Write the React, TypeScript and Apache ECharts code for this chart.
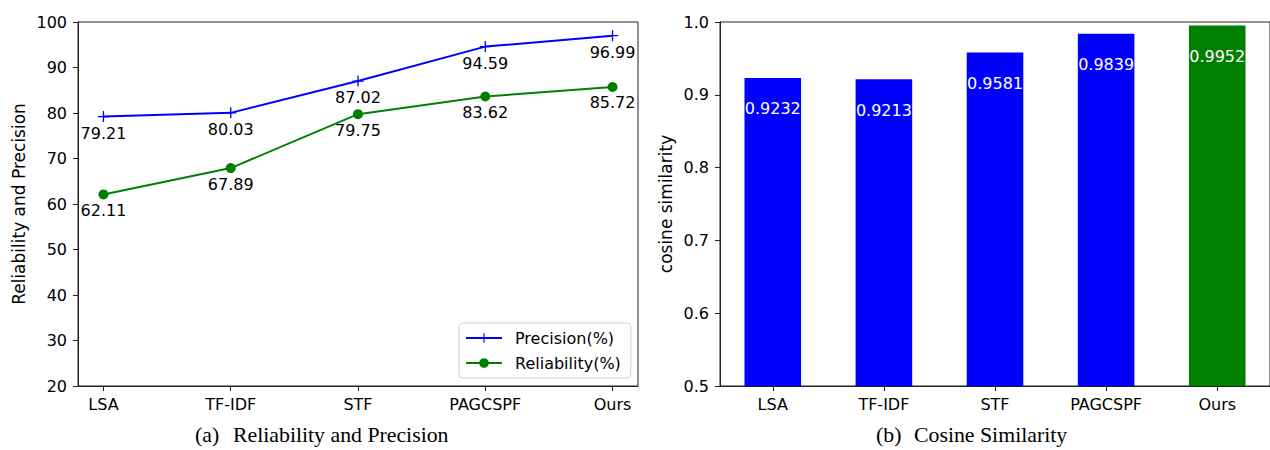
import React, { useEffect, useRef } from "react";
import * as echarts from "echarts";

const methods = ["LSA", "TF-IDF", "STF", "PAGCSPF", "Ours"];
const precision = [79.21, 80.03, 87.02, 94.59, 96.99];
const reliability = [62.11, 67.89, 79.75, 83.62, 85.72];
const cosine = [0.9232, 0.9213, 0.9581, 0.9839, 0.9952];
const leftTicks = [20, 30, 40, 50, 60, 70, 80, 90, 100];
const rightTicks = [0.5, 0.6, 0.7, 0.8, 0.9, 1.0];

const BLUE = "#0000ff";
const GREEN = "#008000";
const FONT = "'DejaVu Sans', sans-serif";
const SERIF = "'Liberation Serif', 'Times New Roman', serif";
const PLUS = "path://M4.4,0H5.6V4.4H10V5.6H5.6V10H4.4V5.6H0V4.4H4.4Z";

export default function App() {
  const ref = useRef<HTMLDivElement>(null);
  useEffect(() => {
    const chart = echarts.init(ref.current!, null, { renderer: "svg" });
    const idx = methods.map((_, i) => i);
    const axisCommon = {
      axisLine: { show: true, onZero: false, lineStyle: { color: "#222", width: 1 } },
      axisTick: { show: true, inside: false, length: 5, lineStyle: { color: "#222", width: 1 } },
      splitLine: { show: false },
    };
    const tickFont = { fontSize: 16, color: "#000", fontFamily: FONT };
    chart.setOption({
      animation: false,
      textStyle: { fontFamily: FONT },
      grid: [
        { left: 78, top: 22, width: 560, height: 364, show: true, borderColor: "#222", borderWidth: 1, backgroundColor: "transparent" },
        { left: 720, top: 22, width: 560.6, height: 364, show: true, borderColor: "#222", borderWidth: 1, backgroundColor: "transparent" },
      ],
      xAxis: [
        {
          type: "value", gridIndex: 0, min: -0.2, max: 4.2, ...axisCommon,
          axisTick: { ...axisCommon.axisTick, customValues: idx },
          axisLabel: { customValues: idx, formatter: (v: number) => methods[Math.round(v)] ?? "", ...tickFont, margin: 10 },
        },
        {
          type: "value", gridIndex: 1, min: -0.475, max: 4.475, ...axisCommon,
          axisTick: { ...axisCommon.axisTick, customValues: idx },
          axisLabel: { customValues: idx, formatter: (v: number) => methods[Math.round(v)] ?? "", ...tickFont, margin: 10 },
        },
      ],
      yAxis: [
        {
          type: "value", gridIndex: 0, min: leftTicks[0], max: leftTicks[leftTicks.length - 1], interval: 10, ...axisCommon,
          axisLabel: { ...tickFont, margin: 11 },
          name: "Reliability and Precision", nameLocation: "middle", nameGap: 51, nameRotate: 90,
          nameTextStyle: { fontSize: 17, color: "#000", fontFamily: FONT },
        },
        {
          type: "value", gridIndex: 1, min: rightTicks[0], max: rightTicks[rightTicks.length - 1], interval: 0.1, ...axisCommon,
          axisLabel: { ...tickFont, margin: 11, formatter: (v: number) => v.toFixed(1) },
          name: "cosine similarity", nameLocation: "middle", nameGap: 46, nameRotate: 90,
          nameTextStyle: { fontSize: 17, color: "#000", fontFamily: FONT },
        },
      ],
      legend: {
        data: ["Precision(%)", "Reliability(%)"],
        orient: "vertical",
        left: 459, top: 323,
        itemWidth: 36, itemHeight: 12, itemGap: 9,
        padding: [7, 10, 7, 6],
        borderColor: "#d0d0d0", borderWidth: 1, borderRadius: 4,
        backgroundColor: "rgba(255,255,255,0.8)",
        textStyle: { fontSize: 16, color: "#000", fontFamily: FONT, padding: [0, 0, 0, 8] },
      },
      series: [
        {
          name: "Precision(%)", type: "line", xAxisIndex: 0, yAxisIndex: 0,
          data: precision.map((v, i) => [i, v]),
          color: BLUE, symbol: PLUS, symbolSize: 11,
          lineStyle: { color: BLUE, width: 2 }, itemStyle: { color: BLUE },
          label: { show: true, position: "bottom", distance: 3, fontSize: 16, color: "#000", fontFamily: FONT, formatter: (p: any) => p.value[1].toFixed(2) },
        },
        {
          name: "Reliability(%)", type: "line", xAxisIndex: 0, yAxisIndex: 0,
          data: reliability.map((v, i) => [i, v]),
          color: GREEN, symbol: "circle", symbolSize: 10,
          lineStyle: { color: GREEN, width: 2 }, itemStyle: { color: GREEN },
          label: { show: true, position: "bottom", distance: 3, fontSize: 16, color: "#000", fontFamily: FONT, formatter: (p: any) => p.value[1].toFixed(2) },
        },
        {
          name: "Cosine", type: "bar", xAxisIndex: 1, yAxisIndex: 1,
          barWidth: 56.6,
          data: cosine.map((v, i) => ({ value: [i, v], itemStyle: { color: i === cosine.length - 1 ? GREEN : BLUE } })),
          label: { show: true, position: "insideTop", distance: 23, fontSize: 16, color: "#fff", fontFamily: FONT, formatter: (p: any) => p.value[1].toFixed(4) },
        },
      ],
      graphic: [
        { type: "text", left: 195, top: 424, style: { text: "(a)", fontSize: 21.8, fontFamily: SERIF, fill: "#000" } },
        { type: "text", left: 233, top: 424, style: { text: "Reliability and Precision", fontSize: 21.8, fontFamily: SERIF, fill: "#000" } },
        { type: "text", left: 876, top: 424, style: { text: "(b)", fontSize: 21.8, fontFamily: SERIF, fill: "#000" } },
        { type: "text", left: 914, top: 424, style: { text: "Cosine Similarity", fontSize: 21.8, fontFamily: SERIF, fill: "#000" } },
      ],
    });
    return () => chart.dispose();
  }, []);
  return <div ref={ref} style={{ position: "fixed", left: 0, top: 0, width: 1270, height: 450, background: "#fff" }} />;
}
